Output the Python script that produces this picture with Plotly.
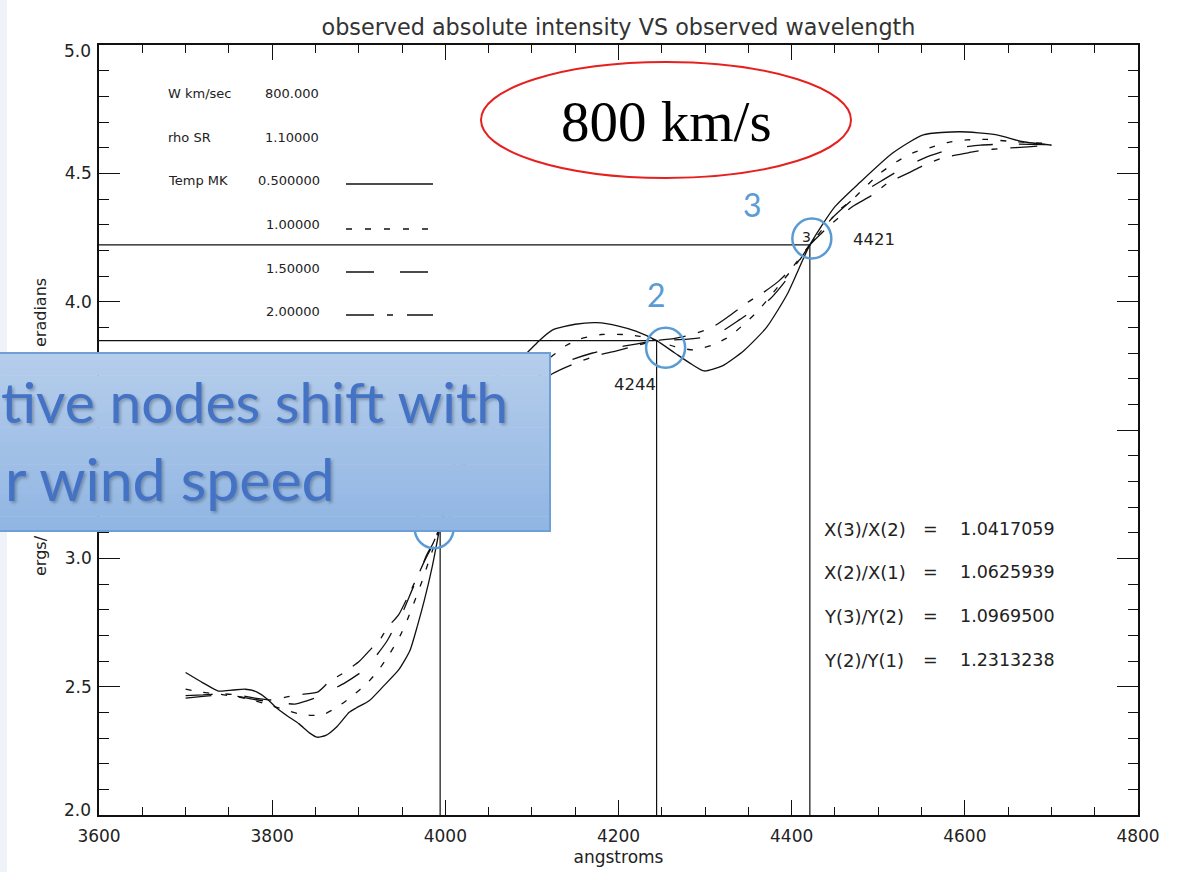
import plotly.graph_objects as go

# ---------------- data ----------------
# crossing nodes of the spectra (angstroms, intensity)
node_x = [3994, 4244, 4421]
node_y = [3.125, 3.848, 4.221]

ratio_names = ["X(3)/X(2)", "X(2)/X(1)", "Y(3)/Y(2)", "Y(2)/Y(1)"]
ratio_values = [1.0417059, 1.0625939, 1.0969500, 1.2313238]

wind_speed = 800.0
rho_sr = 1.1
temps_mk = [0.5, 1.0, 1.5, 2.0]

x_ticks = [3600, 3800, 4000, 4200, 4400, 4600, 4800]
y_ticks = [2.0, 2.5, 3.0, 3.5, 4.0, 4.5, 5.0]

# T = 0.5 MK
x_t05 = [3700, 3720, 3738, 3755, 3769, 3782, 3795, 3804, 3818, 3831, 3843, 3852,
         3862, 3875, 3889, 3897, 3912, 3928, 3946, 3959, 3968, 3976, 3985, 3994,
         4010, 4030, 4050, 4070, 4094, 4109, 4124, 4150, 4175, 4200, 4220, 4244,
         4265, 4285, 4299, 4320, 4345, 4371, 4395, 4421, 4450, 4479, 4517, 4552,
         4594, 4637, 4667, 4700]
y_t05 = [2.555, 2.515, 2.483, 2.487, 2.49, 2.48, 2.45, 2.42, 2.385, 2.355, 2.32, 2.303,
         2.31, 2.345, 2.40, 2.417, 2.445, 2.50, 2.565, 2.64, 2.74, 2.84, 2.97, 3.125,
         3.36, 3.55, 3.67, 3.745, 3.80, 3.85, 3.89, 3.912, 3.918, 3.905, 3.885, 3.848,
         3.80, 3.755, 3.73, 3.75, 3.81, 3.90, 4.03, 4.221, 4.37, 4.465, 4.58, 4.65,
         4.662, 4.65, 4.623, 4.61]

# T = 1.0 MK
x_t10 = [3700, 3720, 3740, 3760, 3780, 3800, 3815, 3830, 3845, 3858, 3875, 3893,
         3910, 3923, 3936, 3948, 3956, 3963, 3973, 3980, 3988, 3994, 4015, 4040,
         4065, 4090, 4110, 4124, 4140, 4156, 4180, 4205, 4225, 4244, 4265, 4286,
         4308, 4329, 4344, 4360, 4375, 4387, 4405, 4421, 4440, 4456, 4471, 4485,
         4502, 4521, 4540, 4560, 4580, 4602, 4625, 4648, 4675, 4700]
y_t10 = [2.49, 2.478, 2.47, 2.46, 2.445, 2.425, 2.41, 2.395, 2.388, 2.39, 2.42, 2.465,
         2.515, 2.565, 2.63, 2.70, 2.76, 2.82, 2.91, 2.98, 3.06, 3.125, 3.33, 3.50,
         3.61, 3.69, 3.75, 3.79, 3.83, 3.855, 3.872, 3.872, 3.865, 3.848, 3.825, 3.812,
         3.83, 3.866, 3.91, 3.96, 4.02, 4.07, 4.145, 4.221, 4.30, 4.36, 4.40, 4.447,
         4.50, 4.545, 4.58, 4.60, 4.62, 4.63, 4.632, 4.626, 4.62, 4.615]

# T = 1.5 MK
x_t15 = [3700, 3720, 3740, 3760, 3780, 3800, 3815, 3826, 3840, 3853, 3870, 3884,
         3906, 3920, 3933, 3944, 3952, 3962, 3970, 3978, 3986, 3994, 4015, 4040,
         4065, 4090, 4121, 4147, 4170, 4195, 4220, 4244, 4270, 4300, 4317, 4340,
         4355, 4375, 4395, 4421, 4445, 4475, 4502, 4527, 4557, 4585, 4618, 4649,
         4675, 4700]
y_t15 = [2.455, 2.462, 2.468, 2.462, 2.45, 2.44, 2.435, 2.432, 2.445, 2.46, 2.49, 2.515,
         2.565, 2.62, 2.68, 2.75, 2.80, 2.88, 2.94, 3.01, 3.06, 3.125, 3.31, 3.47,
         3.58, 3.66, 3.74, 3.775, 3.80, 3.82, 3.835, 3.848, 3.852, 3.862, 3.88, 3.93,
         3.965, 4.01, 4.09, 4.221, 4.32, 4.41, 4.467, 4.517, 4.565, 4.595, 4.61, 4.614,
         4.613, 4.612]

# T = 2.0 MK
x_t20 = [3700, 3720, 3740, 3760, 3780, 3800, 3817, 3835, 3853, 3866, 3884, 3901,
         3915, 3924, 3933, 3946, 3958, 3968, 3976, 3985, 3994, 4015, 4040, 4065,
         4090, 4124, 4150, 4175, 4200, 4222, 4244, 4265, 4283, 4308, 4326, 4348,
         4367, 4385, 4400, 4421, 4445, 4470, 4493, 4510, 4537, 4552, 4574, 4604,
         4620, 4644, 4673, 4700]
y_t20 = [2.465, 2.468, 2.472, 2.468, 2.455, 2.448, 2.46, 2.47, 2.48, 2.52, 2.557, 2.60,
         2.65, 2.68, 2.73, 2.78, 2.86, 2.93, 2.99, 3.05, 3.125, 3.29, 3.44, 3.55,
         3.63, 3.72, 3.76, 3.79, 3.81, 3.83, 3.848, 3.857, 3.87, 3.90, 3.94, 3.995,
         4.035, 4.08, 4.13, 4.221, 4.30, 4.37, 4.415, 4.46, 4.505, 4.53, 4.56, 4.58,
         4.59, 4.597, 4.603, 4.61]

# ---------------- geometry helpers ----------------
W, H = 1178, 872
PL, PR, PT, PB = 99, 1138, 45, 815


def px(p):
    return (p - PL) / (PR - PL)


def py(q):
    return (PB - q) / (PB - PT)


INK = "#111111"
TXT = "#222222"
IDL_FONT = "DejaVu Sans"
BLUE = "#5b9bd5"

curve_styles = [
    dict(width=1.3, dash="solid"),
    dict(width=1.3, dash="6px,12px"),
    dict(width=1.3, dash="26px,26px"),
    dict(width=1.3, dash="27px,13px,6px,13px"),
]
legend_dashes = ["solid", "6px,13px", "28px,26px", "28px,13px,6px,14px"]

fig = go.Figure()

for xs, ys, st in zip([x_t05, x_t10, x_t15, x_t20], [y_t05, y_t10, y_t15, y_t20], curve_styles):
    fig.add_trace(go.Scatter(
        x=xs, y=ys, mode="lines", showlegend=False, hoverinfo="skip",
        line=dict(color=INK, width=st["width"], dash=st["dash"], shape="spline", smoothing=0.6),
    ))

# guide lines from each node to the axes
for nx, ny in zip(node_x, node_y):
    fig.add_trace(go.Scatter(
        x=[x_ticks[0], nx, nx], y=[ny, ny, y_ticks[0]], mode="lines",
        showlegend=False, hoverinfo="skip", line=dict(color=INK, width=1.2),
    ))

shapes = []

# light strip at the left edge of the page
shapes.append(dict(type="rect", xref="paper", yref="paper", layer="below",
                   x0=px(-2), x1=px(7), y0=py(H + 2), y1=py(-2),
                   fillcolor="#eff2f8", line=dict(width=0)))

# blue rings around the nodes (pixel-sized, anchored to the node)
ring_offsets = [(-6, -2), (9, -7), (2, 6.5)]
for (nx, ny), (dx, dy) in zip(zip(node_x, node_y), ring_offsets):
    shapes.append(dict(type="circle", xref="x", yref="y", layer="above",
                       xsizemode="pixel", ysizemode="pixel", xanchor=nx, yanchor=ny,
                       x0=dx - 19.5, x1=dx + 19.5, y0=dy - 20, y1=dy + 20,
                       line=dict(color=BLUE, width=2.5)))

# red ellipse around the wind speed callout
shapes.append(dict(type="circle", xref="paper", yref="paper", layer="above",
                   x0=px(481), x1=px(851), y0=py(178), y1=py(62),
                   line=dict(color="#e5211f", width=2)))

# legend line samples
legend_rows_y = [184, 229, 272, 315]
legend_ends = [433, 428, 428, 433]
for yy, dash, xe in zip(legend_rows_y, legend_dashes, legend_ends):
    shapes.append(dict(type="line", xref="paper", yref="paper", layer="above",
                       x0=px(346), x1=px(xe), y0=py(yy), y1=py(yy),
                       line=dict(color=INK, width=1.3, dash=dash)))

# callout box with vertical gradient
box_l, box_r, box_t, box_b = -2, 550, 353, 531
n_bands = 24
top_rgb = (181, 205, 235)
bot_rgb = (145, 182, 227)
for i in range(n_bands):
    f = i / (n_bands - 1)
    c = tuple(round(a + (b - a) * f) for a, b in zip(top_rgb, bot_rgb))
    y0 = box_t + (box_b - box_t) * i / n_bands
    y1 = box_t + (box_b - box_t) * (i + 1) / n_bands
    shapes.append(dict(type="rect", xref="paper", yref="paper", layer="above",
                       x0=px(box_l), x1=px(box_r), y0=py(y1 + 0.6), y1=py(y0),
                       fillcolor="rgb(%d,%d,%d)" % c, line=dict(width=0)))
shapes.append(dict(type="rect", xref="paper", yref="paper", layer="above",
                   x0=px(box_l), x1=px(box_r), y0=py(box_b), y1=py(box_t),
                   fillcolor="rgba(0,0,0,0)", line=dict(color="#6f9fd7", width=2)))

ann = []


def text_px(x, y, s, size, xanchor="center", family=IDL_FONT, color=TXT, angle=0, **kw):
    ann.append(dict(xref="paper", yref="paper", x=px(x), y=py(y), text=s, showarrow=False,
                    xanchor=xanchor, yanchor="middle", textangle=angle,
                    font=dict(family=family, size=size, color=color, **kw)))


# parameter legend
text_px(166, 93, "W km/sec", 13, "left")
text_px(321, 93, f"{wind_speed:#.6g}", 13, "right")
text_px(166, 137, "rho SR", 13, "left")
text_px(321, 137, f"{rho_sr:#.6g}", 13, "right")
text_px(166, 181, "Temp MK", 13, "left")
for t, yy in zip(temps_mk, [181, 224, 268, 312]):
    text_px(322, yy, f"{t:#.6g}", 13, "right")

# ratio block
for name, val, yy in zip(ratio_names, ratio_values, [529, 572, 616, 660]):
    text_px(822, yy, name, 18, "left")
    text_px(930, yy, "=", 17.5, "center")
    text_px(958, yy, f"{val:.7f}", 17.5, "left")

# end labels of the intensity axis sit just inside the frame
text_px(93, 809.5, f"{y_ticks[0]:.1f}", 17, "right")
text_px(93, 51, f"{y_ticks[-1]:.1f}", 17, "right")

# y-axis title (visible parts around the callout box)
text_px(40, 313, "eradians", 16, "center", angle=-90)
text_px(40, 556, "ergs/", 16, "center", angle=-90)

# node labels
ann.append(dict(xref="x", yref="y", x=node_x[2], y=node_y[2], text=f"{node_x[2]}",
                showarrow=False, xshift=64, yshift=5,
                font=dict(family=IDL_FONT, size=16.5, color=TXT)))
ann.append(dict(xref="x", yref="y", x=node_x[1], y=node_y[1], text=f"{node_x[1]}",
                showarrow=False, xshift=-22, yshift=-44,
                font=dict(family=IDL_FONT, size=16.5, color=TXT)))
ann.append(dict(xref="x", yref="y", x=node_x[2], y=node_y[2], text="3",
                showarrow=False, xshift=-3, yshift=7.5,
                font=dict(family=IDL_FONT, size=14, color=TXT)))

# blue node numbers
for k, dx, dy in [(2, -57, 40.5), (1, 0, 46)]:
    ann.append(dict(xref="x", yref="y", x=node_x[k], y=node_y[k], text=str(k + 1),
                    showarrow=False, xshift=dx, yshift=dy,
                    font=dict(family="Lato", size=32, color=BLUE)))

# wind speed callout
text_px(666, 121, f"{wind_speed:.0f} km/s", 57, "center",
        family="Liberation Serif", color="#000000")

# callout box text
shadow = "2px 2px 3px rgba(0,0,0,0.25)"
text_px(-1, 401, "tive nodes shift with", 57, "left", family="Lato", color="#4472c4", shadow=shadow)
text_px(3, 478, "r wind speed", 59, "left", family="Lato", color="#4472c4", shadow=shadow)

axis_common = dict(
    ticks="inside", tickcolor=INK, tickwidth=1.2, showline=True, linecolor=INK,
    linewidth=1.5, mirror="allticks", showgrid=False, zeroline=False,
    tickfont=dict(family=IDL_FONT, size=17, color=TXT),
)

# the 3.5 label lies under the callout box; the end labels are drawn above
hidden_y_labels = {0, 3, 6}
y_ticktext = ["" if i in hidden_y_labels else f"{v:.1f}" for i, v in enumerate(y_ticks)]

fig.update_layout(
    width=W, height=H,
    margin=dict(l=PL, r=W - PR, t=PT, b=H - PB, autoexpand=False),
    paper_bgcolor="white", plot_bgcolor="white",
    showlegend=False,
    title=dict(text="observed absolute intensity VS observed wavelength",
               x=0.5, xref="paper", xanchor="center", y=1 - 27 / H, yanchor="middle",
               font=dict(family=IDL_FONT, size=22.3, color="#333333")),
    xaxis=dict(range=[x_ticks[0], x_ticks[-1]], tickvals=x_ticks, ticklen=15,
               ticklabelstandoff=5,
               minor=dict(ticks="inside", ticklen=8, dtick=50, tickcolor=INK, tickwidth=1.2),
               title=dict(text="angstroms", standoff=6,
                          font=dict(family=IDL_FONT, size=17, color=TXT)),
               **axis_common),
    yaxis=dict(range=[y_ticks[0], y_ticks[-1]], tickvals=y_ticks, ticktext=y_ticktext,
               ticklen=21, ticklabelstandoff=2,
               minor=dict(ticks="inside", ticklen=10, dtick=0.1, tickcolor=INK, tickwidth=1.2),
               **axis_common),
    shapes=shapes,
    annotations=ann,
)

fig.write_html("out.html")
